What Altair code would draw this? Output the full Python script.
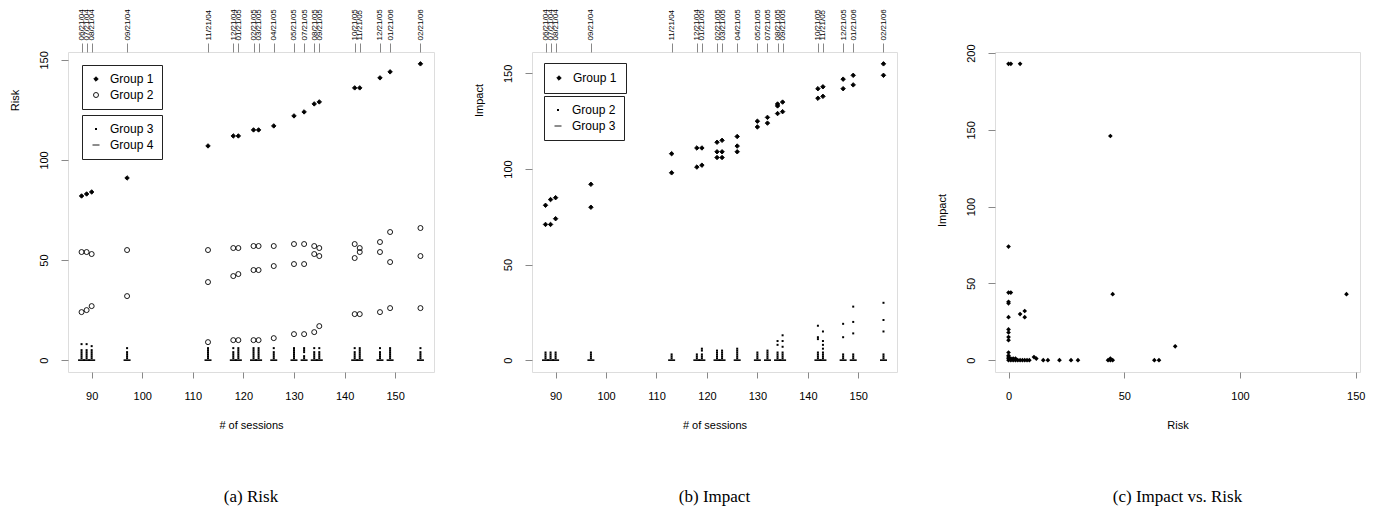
import json
import altair as alt
import pandas as pd

# ---------------- data ----------------
sessions = [88, 89, 90, 97, 113, 118, 119, 122, 123, 126, 130, 132, 134, 135, 142, 143, 147, 149, 155]
dates = ['06/21/04', '07/21/04', '08/21/04', '09/21/04', '11/21/04', '12/21/04', '01/21/05',
         '02/21/05', '03/21/05', '04/21/05', '05/21/05', '07/21/05', '08/21/05', '09/21/05',
         '10/21/05', '11/21/05', '12/21/05', '01/21/06', '02/21/06']

# (a) Risk
risk_g1 = [82, 83, 84, 91, 107, 112, 112, 115, 115, 117, 122, 124, 128, 129, 136, 136, 141, 144, 148]
risk_g2 = [[54, 24], [54, 25], [53, 27], [55, 32], [55, 39, 9], [56, 42, 10], [56, 43, 10],
           [57, 45, 10], [57, 45, 10], [57, 47, 11], [58, 48, 13], [58, 48, 13], [57, 53, 14],
           [56, 52, 17], [58, 51, 23], [56, 54, 23], [59, 54, 24], [64, 49, 26], [66, 52, 26]]
risk_g3 = [[1, 2, 3, 4, 5, 8], [1, 2, 3, 4, 5, 8], [1, 2, 3, 4, 5, 7], [1, 2, 3, 4, 6],
           [1, 2, 3, 4, 5, 6], [1, 2, 3, 4, 6], [1, 2, 3, 4, 5, 6], [1, 2, 3, 4, 5, 6],
           [1, 2, 3, 4, 5, 6], [1, 2, 3, 4, 6], [1, 2, 3, 4, 5, 6], [1, 2, 4, 5, 6],
           [1, 2, 3, 4, 6], [1, 2, 3, 4, 6], [1, 2, 3, 4, 6], [1, 2, 3, 4, 5, 6],
           [1, 2, 3, 4, 6], [1, 2, 3, 4, 5, 6], [1, 2, 3, 4, 6]]
risk_g4 = [[0]] * len(sessions)

# (b) Impact
impact_g1 = [[81, 71], [84, 71], [85, 74], [92, 80], [108, 98], [111, 101], [111, 102],
             [114, 109, 106], [115, 109, 106], [117, 112, 109], [125, 122], [127, 124],
             [134, 133, 129], [135, 130], [142, 137], [143, 138], [147, 142], [149, 144], [155, 149]]
impact_g2 = [[1, 2, 3, 4], [1, 2, 3, 4], [1, 2, 3, 4], [1, 2, 3, 4], [1, 2, 3], [1, 2, 3],
             [1, 2, 3, 5, 6], [1, 2, 3, 4, 5], [1, 2, 3, 4, 5], [1, 2, 3, 4, 5, 6], [1, 2, 3, 4],
             [1, 2, 3, 4, 5], [1, 2, 3, 4, 8, 10], [1, 2, 3, 4, 7, 10, 13], [1, 2, 3, 4, 11, 12, 18],
             [1, 2, 3, 4, 6, 8, 10, 15], [1, 2, 3, 12, 19], [1, 2, 3, 14, 20, 28], [1, 2, 3, 15, 21, 30]]
impact_g3 = [[0]] * len(sessions)

# (c) Impact vs. Risk
scatter_risk = [0, 1, 5, 44, 0, 0, 1, 0, 0, 5, 7, 7, 45, 146, 0, 0, 0, 0, 0, 0, 0,
                0, 1, 2, 3, 4, 5, 6, 7, 8, 9, 0, 0, 1, 2, 3,
                11, 12, 15, 17, 22, 27, 30, 43, 44, 45, 44, 63, 65, 72]
scatter_impact = [193, 193, 193, 146, 74, 44, 44, 38, 37, 30, 32, 28, 43, 43, 28, 20, 18, 15, 13, 5, 3,
                  0, 0, 0, 0, 0, 0, 0, 0, 0, 0, 1, 2, 1, 1, 1,
                  2, 1, 0, 0, 0, 0, 0, 0, 1, 0, 0, 0, 0, 9]

# ---------------- helpers ----------------
SANS = "Liberation Sans"
NARROW = "Liberation Sans Narrow, Liberation Sans"
SERIF = "Liberation Serif"
INK = "#000000"


def long_rows(groups, name):
    rows = []
    for s, vals in zip(sessions, groups):
        for v in vals:
            rows.append({"session": s, "value": v, "grp": name})
    return rows


def r_domain(vals):
    lo, hi = min(vals), max(vals)
    pad = 0.04 * (hi - lo)
    return [lo - pad, hi + pad]


W, H = 366, 320

x_dom = r_domain(sessions)
xs = alt.Scale(domain=x_dom, nice=False, zero=False)

label_expr = "%s[indexof(%s, datum.value)]" % (json.dumps(dates), json.dumps(sessions))

top_axis = alt.Axis(orient="top", values=sessions, labelExpr=label_expr, labelAngle=270,
                    labelAlign="left", labelBaseline="middle", tickSize=9, labelPadding=3,
                    labelFont=NARROW, labelFontSize=8, labelOverlap=False, labelFlush=False,
                    title=None, domain=False, grid=False)


def bottom_axis(values, title):
    return alt.Axis(values=values, tickSize=6, labelPadding=12, labelFont=NARROW, labelFontSize=11,
                    labelFlush=False, labelOverlap=False, domain=False, grid=False, title=title,
                    titleFont=SANS, titleFontSize=11, titleFontWeight="normal",
                    titleBaseline="middle", titleY=53)


def left_axis(values, title, title_y):
    return alt.Axis(values=values, tickSize=7, labelPadding=12, labelAngle=270, labelAlign="center",
                    labelBaseline="bottom", labelFont=NARROW, labelFontSize=11, labelFlush=False,
                    domain=False, grid=False, title=title, titleFont=SANS, titleFontSize=11,
                    titleFontWeight="normal", titleAngle=270, titleAlign="center",
                    titleBaseline="middle", titleX=-53, titleY=title_y)


def legend(x, y, symbol_size=None, padding=8):
    kw = dict(orient="none", legendX=x, legendY=y, title=None, strokeColor="#222",
              padding=padding, labelFont=SANS, labelFontSize=12, labelColor=INK,
              labelOffset=8, rowPadding=4, symbolStrokeWidth=0.9)
    if symbol_size is not None:
        kw["symbolSize"] = symbol_size
    return alt.Legend(**kw)


def group_layer(df, domain, shapes, fills, strokes, sizes, x_axis, y_axis, ys, leg, sw):
    enc = dict(
        x=alt.X("session:Q", scale=xs, axis=x_axis),
        y=alt.Y("value:Q", scale=ys, axis=y_axis),
        shape=alt.Shape("grp:N", scale=alt.Scale(domain=domain, range=shapes), legend=leg),
        fill=alt.Fill("grp:N", scale=alt.Scale(domain=domain, range=fills), legend=leg),
        stroke=alt.Stroke("grp:N", scale=alt.Scale(domain=domain, range=strokes), legend=leg),
    )
    if len(sizes) > 1:
        enc["size"] = alt.Size("grp:N", scale=alt.Scale(domain=domain, range=sizes), legend=leg)
        mark = alt.Chart(df).mark_point(opacity=1, strokeWidth=sw)
    else:
        mark = alt.Chart(df).mark_point(opacity=1, strokeWidth=sw, size=sizes[0])
    return mark.encode(**enc)


def caption(text):
    return alt.TitleParams(text, orient="bottom", font=SERIF, fontSize=17, fontWeight="normal",
                           color=INK, offset=59, anchor="middle")


# ---------------- panel (a) ----------------
ys_a = alt.Scale(domain=r_domain(risk_g1 + [0]), nice=False, zero=False)
ya = left_axis([0, 50, 100, 150], "Risk", 48)
df_a12 = pd.DataFrame(long_rows([[v] for v in risk_g1], "Group 1") + long_rows(risk_g2, "Group 2"))
df_a34 = pd.DataFrame(long_rows(risk_g3, "Group 3") + long_rows(risk_g4, "Group 4"))

a1 = group_layer(df_a12, ["Group 1", "Group 2"], ["diamond", "circle"], [INK, "transparent"],
                 [INK, INK], [20, 25], bottom_axis(list(range(90, 151, 10)), "# of sessions"),
                 ya, ys_a, legend(14, 13), 0.9)
a2 = group_layer(df_a34, ["Group 3", "Group 4"], ["square", "stroke"], [INK, "transparent"],
                 ["transparent", INK], [4, 49], top_axis, ya, ys_a, legend(14, 63), 1.6)
panel_a = alt.layer(a1, a2).resolve_scale(
    shape="independent", fill="independent", stroke="independent", size="independent"
).resolve_legend(
    shape="independent", fill="independent", stroke="independent", size="independent"
).resolve_axis(x="independent").properties(width=W, height=H, title=caption("(a) Risk"))

# ---------------- panel (b) ----------------
ys_b = alt.Scale(domain=r_domain([v for vs in impact_g1 for v in vs] + [0]), nice=False, zero=False)
yb = left_axis([0, 50, 100, 150], "Impact", 48)
df_b1 = pd.DataFrame(long_rows(impact_g1, "Group 1"))
df_b23 = pd.DataFrame(long_rows(impact_g2, "Group 2") + long_rows(impact_g3, "Group 3"))

b1 = group_layer(df_b1, ["Group 1"], ["diamond"], [INK], [INK], [20],
                 bottom_axis(list(range(90, 151, 10)), "# of sessions"), yb, ys_b,
                 legend(12, 11, symbol_size=20, padding=9), 0.9)
b2 = group_layer(df_b23, ["Group 2", "Group 3"], ["square", "stroke"], [INK, "transparent"],
                 ["transparent", INK], [4, 49], top_axis, yb, ys_b, legend(12, 44), 1.6)
panel_b = alt.layer(b1, b2).resolve_scale(
    shape="independent", fill="independent", stroke="independent", size="independent"
).resolve_legend(
    shape="independent", fill="independent", stroke="independent", size="independent"
).resolve_axis(x="independent").properties(width=365, height=H, title=caption("(b) Impact"))

# ---------------- panel (c) ----------------
df_c = pd.DataFrame({"risk": scatter_risk, "impact": scatter_impact})
panel_c = alt.Chart(df_c).mark_point(shape="diamond", filled=True, color=INK, size=22,
                                     opacity=1).encode(
    x=alt.X("risk:Q", scale=alt.Scale(domain=r_domain(scatter_risk), nice=False, zero=False),
            axis=bottom_axis([0, 50, 100, 150], "Risk")),
    y=alt.Y("impact:Q", scale=alt.Scale(domain=r_domain(scatter_impact), nice=False, zero=False),
            axis=left_axis([0, 50, 100, 150, 200], "Impact", 158)),
).properties(width=365, height=H, title=caption("(c) Impact vs. Risk"))

chart = alt.hconcat(panel_a, panel_b, panel_c, spacing=98, bounds="flush").properties(
    padding={"left": 0, "top": 0, "right": 0, "bottom": 0}
).configure_view(stroke="#222", strokeWidth=1).configure_axis(
    labelColor=INK, tickColor=INK, titleColor=INK, tickWidth=1
).configure(background="white")

chart.save("out.html", embed_options={"renderer": "svg", "actions": False})
